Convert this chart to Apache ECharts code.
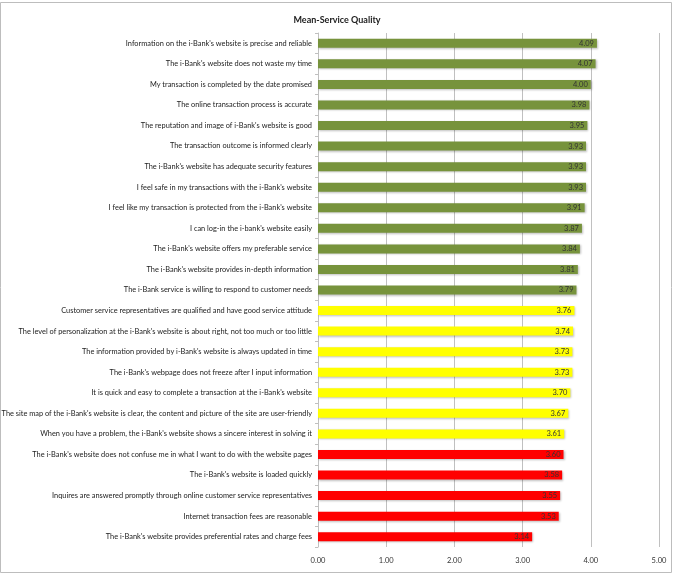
<!DOCTYPE html>
<html>
<head>
<meta charset="utf-8">
<script src="https://cdn.jsdelivr.net/npm/echarts@6/dist/echarts.min.js"></script>
<style>
  html, body { margin: 0; padding: 0; background: #fff; }
  #chart { width: 674px; height: 579px; }
</style>
</head>
<body>
<div id="chart"></div>
<script>
const categories = [
  "Information on the i-Bank's website is precise and reliable",
  "The i-Bank's website does not waste my time",
  "My transaction is completed by the date promised",
  "The online transaction process is accurate",
  "The reputation and image of i-Bank's website is good",
  "The transaction outcome is informed clearly",
  "The i-Bank's website has adequate security features",
  "I feel safe in my transactions with the i-Bank's website",
  "I feel like my transaction is protected from the i-Bank's website",
  "I can log-in the i-bank's website easily",
  "The i-Bank's website offers my preferable service",
  "The i-Bank's website provides in-depth information",
  "The i-Bank service is willing to respond to customer needs",
  "Customer service representatives are qualified and have good service attitude",
  "The level of personalization at the i-Bank's website is about right, not too much or too little",
  "The information provided by i-Bank's website is always updated in time",
  "The i-Bank's webpage does not freeze after I input information",
  "It is quick and easy to complete a transaction at the i-Bank's website",
  "The site map of the i-Bank's website is clear, the content and picture of the site are user-friendly",
  "When you have a problem, the i-Bank's website shows a sincere interest in solving it",
  "The i-Bank's website does not confuse me in what I want to do with the website pages",
  "The i-Bank's website is loaded quickly",
  "Inquires are answered promptly through online customer service representatives",
  "Internet transaction fees are reasonable",
  "The i-Bank's website provides preferential rates and charge fees"
]
const means = [4.09, 4.07, 4.00, 3.98, 3.95, 3.93, 3.93, 3.93, 3.91, 3.87, 3.84, 3.81, 3.79,
  3.76, 3.74, 3.73, 3.73, 3.70, 3.67, 3.61,
  3.60, 3.58, 3.55, 3.53, 3.14]
// tier of each item: 0 = high, 1 = middle, 2 = low
const tiers = [0, 0, 0, 0, 0, 0, 0, 0, 0, 0, 0, 0, 0,
  1, 1, 1, 1, 1, 1, 1,
  2, 2, 2, 2, 2]

const tierColors = ['#77933c', '#ffff00', '#ff0000']
const font = 'Lato, "Open Sans", sans-serif'

const chart = echarts.init(document.getElementById('chart'))
chart.setOption({
  animation: false,
  graphic: [{
    type: 'rect',
    shape: { x: 0.5, y: 2.5, width: 671, height: 570 },
    style: { fill: 'none', stroke: '#bdbdbd', lineWidth: 1 },
    silent: true
  }],
  title: {
    text: 'Mean-Service Quality',
    left: 'center',
    top: 11,
    textStyle: { fontFamily: font, fontSize: 9, fontWeight: 'bold', color: '#222' }
  },
  grid: { left: 318, right: 15, top: 33, bottom: 32, outerBoundsMode: 'none' },
  xAxis: {
    type: 'value',
    min: 0,
    max: 5,
    interval: 1,
    axisLabel: {
      formatter: v => v.toFixed(2),
      fontFamily: font, fontSize: 7.5, color: '#333', margin: 10
    },
    axisLine: { show: false },
    axisTick: { show: false },
    splitLine: { show: true, lineStyle: { color: '#c0c0c0', width: 1 } }
  },
  yAxis: {
    type: 'category',
    inverse: true,
    data: categories,
    axisLine: { show: true, lineStyle: { color: '#c0c0c0' } },
    axisTick: { show: true, length: 3, lineStyle: { color: '#c0c0c0' } },
    axisLabel: { fontFamily: font, fontSize: 7.4, color: '#222', margin: 6 }
  },
  series: [{
    type: 'bar',
    barWidth: 9,
    data: means.map((v, i) => ({
      value: v,
      itemStyle: { color: tierColors[tiers[i]] }
    })),
    itemStyle: {
      shadowBlur: 2,
      shadowOffsetX: 1,
      shadowOffsetY: 1,
      shadowColor: 'rgba(0,0,0,0.25)'
    },
    label: {
      show: true,
      position: 'insideRight',
      formatter: p => p.value.toFixed(2),
      fontFamily: font,
      fontSize: 7.5,
      color: '#333',
      distance: 3
    }
  }]
})
</script>
</body>
</html>
